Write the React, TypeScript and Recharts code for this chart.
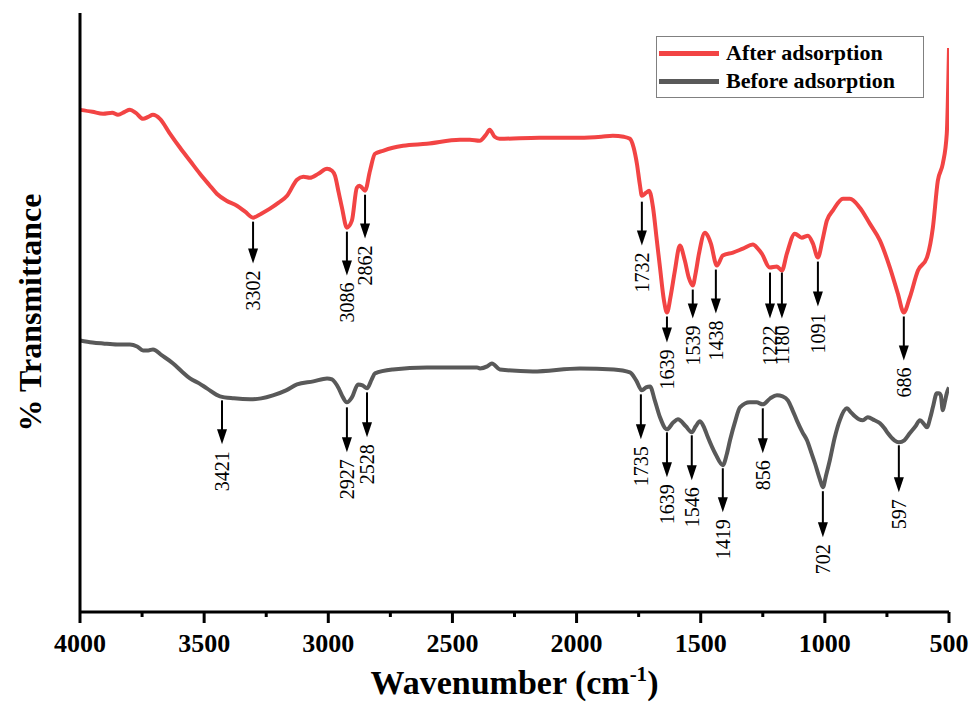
// FTIR spectra before/after adsorption, drawn with Recharts.
import React from "react";
import { ComposedChart, Line, XAxis, YAxis, ReferenceLine, Legend, Label } from "recharts";

const FONT = '"Liberation Serif", "Times New Roman", serif';
const RED = "#F24444";
const GRAY = "#595959";

const wnTicks = [4000, 3750, 3500, 3250, 3000, 2750, 2500, 2250, 2000, 1750, 1500, 1250, 1000, 750, 500];

// [wavenumber, transmittance (arb.)]
const afterPoints: [number, number][] = [
  [4000, 503], [3950, 501], [3907, 499], [3870, 500], [3847, 498], [3820, 501], [3799, 503],
  [3775, 500], [3746, 494], [3725, 496], [3706, 498], [3678, 494], [3640, 480], [3597, 465],
  [3557, 452], [3517, 439], [3480, 428], [3449, 419], [3410, 412], [3368, 407], [3335, 401],
  [3303, 395], [3270, 399], [3235, 404], [3200, 410], [3166, 417], [3126, 433], [3100, 436],
  [3074, 435], [3040, 439], [3005, 444], [2985, 442], [2973, 437], [2958, 420], [2945, 405],
  [2925, 385], [2905, 392], [2885, 425], [2875, 427], [2864, 425], [2852, 422], [2832, 442],
  [2812, 459], [2780, 462], [2740, 465], [2699, 467], [2603, 469], [2470, 473], [2430, 473],
  [2390, 472], [2365, 478], [2350, 483], [2330, 476], [2310, 474], [2150, 475], [1987, 475],
  [1900, 476], [1854, 477], [1810, 476], [1785, 474], [1770, 465], [1757, 449], [1745, 428],
  [1737, 417], [1720, 420], [1708, 422], [1692, 405], [1678, 375], [1664, 345], [1648, 312],
  [1636, 300], [1620, 318], [1604, 342], [1584, 367], [1564, 352], [1548, 335], [1532, 327],
  [1520, 340], [1507, 359], [1483, 380], [1470, 376], [1459, 369], [1435, 347], [1411, 357],
  [1370, 360], [1330, 364], [1290, 368], [1270, 364], [1254, 359], [1222, 345], [1193, 346],
  [1173, 342], [1153, 359], [1121, 379], [1093, 375], [1068, 377], [1048, 369], [1028, 355],
  [1010, 372], [992, 392], [968, 402], [927, 414], [899, 414], [859, 405], [819, 389],
  [778, 372], [738, 345], [706, 319], [682, 300], [658, 315], [625, 342], [589, 355],
  [565, 385], [545, 432], [525, 449], [509, 479], [500, 565],
];

const beforePoints: [number, number][] = [
  [4000, 272], [3950, 270], [3907, 269], [3850, 268], [3799, 268], [3770, 266], [3746, 262],
  [3725, 262], [3706, 263], [3670, 257], [3625, 249], [3590, 241], [3557, 234], [3520, 229],
  [3489, 224], [3436, 216], [3380, 214], [3315, 213], [3270, 214], [3223, 217], [3170, 222],
  [3126, 228], [3060, 231], [3005, 234], [2985, 233], [2973, 230], [2958, 224], [2945, 217],
  [2925, 210], [2905, 215], [2880, 228], [2862, 227], [2844, 224], [2825, 233], [2812, 239],
  [2740, 243], [2603, 245], [2401, 245], [2389, 244], [2360, 246], [2341, 249], [2309, 243],
  [2176, 241], [1987, 244], [1850, 243], [1785, 240], [1760, 232], [1737, 222], [1720, 225],
  [1704, 226], [1685, 212], [1664, 195], [1636, 183], [1610, 190], [1592, 193], [1560, 186],
  [1536, 180], [1520, 186], [1503, 191], [1485, 184], [1471, 175], [1440, 158], [1411, 147],
  [1395, 158], [1382, 172], [1360, 192], [1342, 205], [1302, 210], [1275, 210], [1250, 208],
  [1220, 214], [1193, 217], [1170, 216], [1149, 212], [1130, 202], [1113, 192], [1090, 180],
  [1072, 172], [1055, 160], [1040, 149], [1020, 133], [1008, 125], [995, 137], [980, 152],
  [960, 175], [940, 192], [911, 204], [895, 200], [879, 196], [863, 193], [847, 192],
  [827, 195], [800, 192], [778, 189], [760, 184], [746, 179], [720, 172], [702, 170],
  [680, 172], [658, 179], [635, 186], [617, 192], [600, 188], [589, 185], [575, 195],
  [565, 205], [549, 219], [540, 219], [533, 217], [525, 202], [517, 210], [509, 219], [500, 225],
];

// arrow at wavenumber wn, from value top down to value tip, with its label
const afterPeaks = [
  { wn: 3303, top: 393, tip: 349, label: "3302" },
  { wn: 2925, top: 383, tip: 337, label: "3086" },
  { wn: 2852, top: 420, tip: 374, label: "2862" },
  { wn: 1737, top: 413, tip: 367, label: "1732" },
  { wn: 1636, top: 298, tip: 270, label: "1639" },
  { wn: 1532, top: 325, tip: 294, label: "1539" },
  { wn: 1439, top: 345, tip: 299, label: "1438" },
  { wn: 1221, top: 342, tip: 294, label: "1222" },
  { wn: 1173, top: 342, tip: 294, label: "1180" },
  { wn: 1028, top: 353, tip: 306, label: "1091" },
  { wn: 682, top: 298, tip: 252, label: "686" },
];

const beforePeaks = [
  { wn: 3428, top: 214, tip: 168, label: "3421" },
  { wn: 2925, top: 207, tip: 160, label: "2927" },
  { wn: 2844, top: 222, tip: 175, label: "2528" },
  { wn: 1741, top: 220, tip: 173, label: "1735" },
  { wn: 1636, top: 182, tip: 135, label: "1639" },
  { wn: 1536, top: 179, tip: 132, label: "1546" },
  { wn: 1411, top: 146, tip: 100, label: "1419" },
  { wn: 1250, top: 206, tip: 159, label: "856" },
  { wn: 1008, top: 123, tip: 75, label: "702" },
  { wn: 702, top: 169, tip: 120, label: "597" },
];

const afterData = afterPoints.map(([wn, t]) => ({ wn, t }));
const beforeData = beforePoints.map(([wn, t]) => ({ wn, t }));

const WnTick = (props: any) => {
  const { x, y, payload } = props;
  const major = payload.value % 500 === 0;
  return (
    <g>
      <line x1={x} x2={x} y1={y} y2={y + (major ? 11 : 5)} stroke="#000" strokeWidth={3} />
      {major && (
        <text
          x={x}
          y={y + 40}
          textAnchor="middle"
          style={{ fontFamily: FONT, fontWeight: "bold", fontSize: 26 }}
          fill="#000"
        >
          {payload.value}
        </text>
      )}
    </g>
  );
};

const Arrow = (props: any) => {
  const { x1, y1, x2, y2, text } = props;
  if (x1 == null) return null;
  return (
    <g>
      <line x1={x1} y1={y1 + 2} x2={x2} y2={y2 - 12} stroke="#000" strokeWidth={2} />
      <polygon points={`${x2 - 5},${y2 - 15} ${x2 + 5},${y2 - 15} ${x2},${y2}`} fill="#000" />
      <text
        transform={`translate(${x2},${y2 + 7}) rotate(-90)`}
        textAnchor="end"
        dominantBaseline="central"
        style={{ fontFamily: FONT, fontSize: 20 }}
        fill="#000"
      >
        {text}
      </text>
    </g>
  );
};

const LegendBox = () => (
  <div
    style={{
      border: "1.5px solid #808080",
      background: "#fff",
      padding: "2px 6px 2px 2px",
      fontFamily: FONT,
      fontWeight: "bold",
      fontSize: 22,
      lineHeight: "28px",
      color: "#000",
    }}
  >
    {[
      { name: "After adsorption", color: RED },
      { name: "Before adsorption", color: GRAY },
    ].map((e) => (
      <div key={e.name} style={{ display: "flex", alignItems: "center" }}>
        <span style={{ display: "inline-block", width: 60, height: 5, background: e.color, marginRight: 7 }} />
        {e.name}
      </div>
    ))}
  </div>
);

export default function App() {
  return (
    <div style={{ position: "absolute", left: 0, top: 0, background: "#fff" }}>
      <ComposedChart width={971} height={709} margin={{ top: 13, right: 22, bottom: 37, left: 0 }}>
        <XAxis
          xAxisId="bottom"
          type="number"
          dataKey="wn"
          domain={[500, 4000]}
          reversed
          allowDataOverflow
          ticks={wnTicks}
          interval={0}
          tickSize={0}
          tickMargin={0}
          tick={<WnTick />}
          axisLine={{ stroke: "#000", strokeWidth: 3 }}
          height={60}
        >
          <Label
            content={(p: any) => {
              const vb = p.viewBox;
              return (
                <text
                  x={vb.x + vb.width / 2}
                  y={vb.y + 82}
                  textAnchor="middle"
                  style={{ fontFamily: FONT, fontWeight: "bold", fontSize: 34 }}
                  fill="#000"
                >
                  Wavenumber (cm
                  <tspan dy={-13} style={{ fontSize: 21 }}>-1</tspan>
                  <tspan dy={13}>)</tspan>
                </text>
              );
            }}
          />
        </XAxis>
        <XAxis
          xAxisId="top"
          orientation="top"
          type="number"
          domain={[500, 4000]}
          reversed
          tick={false}
          tickLine={false}
          height={0}
          axisLine={{ stroke: "#000", strokeWidth: 3 }}
        />
        <YAxis
          yAxisId="left"
          type="number"
          domain={[0, 600]}
          allowDataOverflow
          tick={false}
          tickLine={false}
          width={80}
          axisLine={{ stroke: "#000", strokeWidth: 3 }}
        >
          <Label
            content={(p: any) => {
              const vb = p.viewBox;
              const cx = vb.x + 30;
              const cy = vb.y + vb.height / 2;
              return (
                <text
                  transform={`translate(${cx},${cy}) rotate(-90)`}
                  textAnchor="middle"
                  dominantBaseline="central"
                  style={{ fontFamily: FONT, fontWeight: "bold", fontSize: 32 }}
                  fill="#000"
                >
                  % Transmittance
                </text>
              );
            }}
          />
        </YAxis>
        <YAxis
          yAxisId="right"
          orientation="right"
          type="number"
          domain={[0, 600]}
          tick={false}
          tickLine={false}
          width={0}
          axisLine={{ stroke: "#000", strokeWidth: 3 }}
        />
        <Legend
          layout="horizontal"
          verticalAlign="middle"
          align="center"
          content={() => <LegendBox />}
          wrapperStyle={{ left: 656, top: 36, width: 268 }}
        />
        <Line
          xAxisId="bottom"
          yAxisId="left"
          data={beforeData}
          dataKey="t"
          name="Before adsorption"
          type="monotone"
          stroke={GRAY}
          strokeWidth={4}
          dot={false}
          isAnimationActive={false}
        />
        <Line
          xAxisId="bottom"
          yAxisId="left"
          data={afterData}
          dataKey="t"
          name="After adsorption"
          type="monotone"
          stroke={RED}
          strokeWidth={4}
          dot={false}
          isAnimationActive={false}
        />
        {[...afterPeaks, ...beforePeaks].map((pk, i) => (
          <ReferenceLine
            key={i}
            xAxisId="bottom"
            yAxisId="left"
            segment={[
              { x: pk.wn, y: pk.top },
              { x: pk.wn, y: pk.tip },
            ]}
            shape={(p: any) => <Arrow {...p} text={pk.label} />}
          />
        ))}
      </ComposedChart>
    </div>
  );
}
